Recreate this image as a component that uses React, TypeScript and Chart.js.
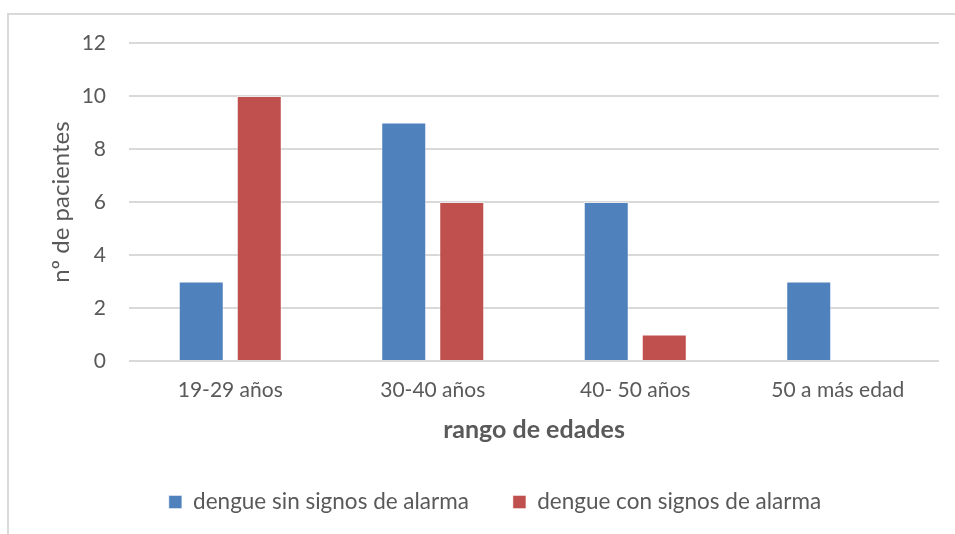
import { useEffect, useRef } from "react";
import { Chart, registerables } from "chart.js";

Chart.register(...registerables);

// Age groups on the x axis
const categories = ["19-29 años", "30-40 años", "40- 50 años", "50 a más edad"];

// Patients per age group
const sinSignos = [3, 9, 6, 3];
const conSignos = [10, 6, 1, 0];

const seriesNames = ["dengue sin signos de alarma", "dengue con signos de alarma"];

// Value axis range
const yMin = 0;
const yMax = 12;
const yStep = 2;

const TEXT = "#595959";
const FONT = "Lato";

// Light grey frame around the whole chart
const framePlugin = {
  id: "frame",
  beforeDraw(chart: Chart) {
    const ctx = chart.ctx;
    ctx.save();
    ctx.fillStyle = "#ffffff";
    ctx.fillRect(0, 0, chart.width, chart.height);
    ctx.strokeStyle = "#d9d9d9";
    ctx.lineWidth = 2;
    ctx.strokeRect(8, 14, 2000, 2000);
    ctx.restore();
  },
};

export default function App() {
  const ref = useRef<HTMLCanvasElement>(null);

  useEffect(() => {
    const chart = new Chart(ref.current!, {
      type: "bar",
      data: {
        labels: categories,
        datasets: [
          {
            label: seriesNames[0],
            data: sinSignos,
            backgroundColor: "#4F81BD",
            borderColor: "rgba(255,255,255,0.45)",
            borderWidth: 1,
            categoryPercentage: 0.573,
            barPercentage: 0.776,
          },
          {
            label: seriesNames[1],
            data: conSignos,
            backgroundColor: "#C0504D",
            borderColor: "rgba(255,255,255,0.45)",
            borderWidth: 1,
            categoryPercentage: 0.573,
            barPercentage: 0.776,
          },
        ],
      },
      options: {
        responsive: false,
        devicePixelRatio: 1,
        animation: false,
        layout: { padding: { left: 51, right: 16, top: 43, bottom: 10.75 } },
        plugins: {
          tooltip: { enabled: false },
          legend: {
            position: "bottom",
            labels: {
              boxWidth: 13,
              boxHeight: 13,
              padding: 44,
              color: TEXT,
              font: { family: FONT, size: 22.5 },
            },
          },
        },
        scales: {
          x: {
            grid: { display: false, drawTicks: false },
            border: { display: false },
            ticks: { color: TEXT, font: { family: FONT, size: 21 }, padding: 17 },
            title: {
              display: true,
              text: "rango de edades",
              color: TEXT,
              font: { family: FONT, size: 25, weight: "bold" },
              padding: { top: 0, bottom: 1.75 },
            },
            afterFit: (s: any) => {
              s.height = 85.75;
            },
          },
          y: {
            min: yMin,
            max: yMax,
            ticks: { stepSize: yStep, color: TEXT, font: { family: FONT, size: 21 }, padding: 23 },
            grid: { color: "#d9d9d9", lineWidth: 2, drawTicks: false },
            border: { display: false },
            title: {
              display: true,
              text: "nº de pacientes",
              color: TEXT,
              font: { family: FONT, size: 24 },
              padding: { top: -4.4, bottom: 0 },
            },
            afterFit: (s: any) => {
              s.width = 78;
            },
          },
        },
      },
      plugins: [framePlugin],
    });
    return () => chart.destroy();
  }, []);

  return (
    <div
      style={{
        position: "fixed",
        left: 0,
        top: 0,
        width: 955,
        height: 534,
        overflow: "hidden",
        background: "#ffffff",
      }}
    >
      <canvas ref={ref} width={955} height={534} style={{ display: "block", width: 955, height: 534 }} />
    </div>
  );
}
